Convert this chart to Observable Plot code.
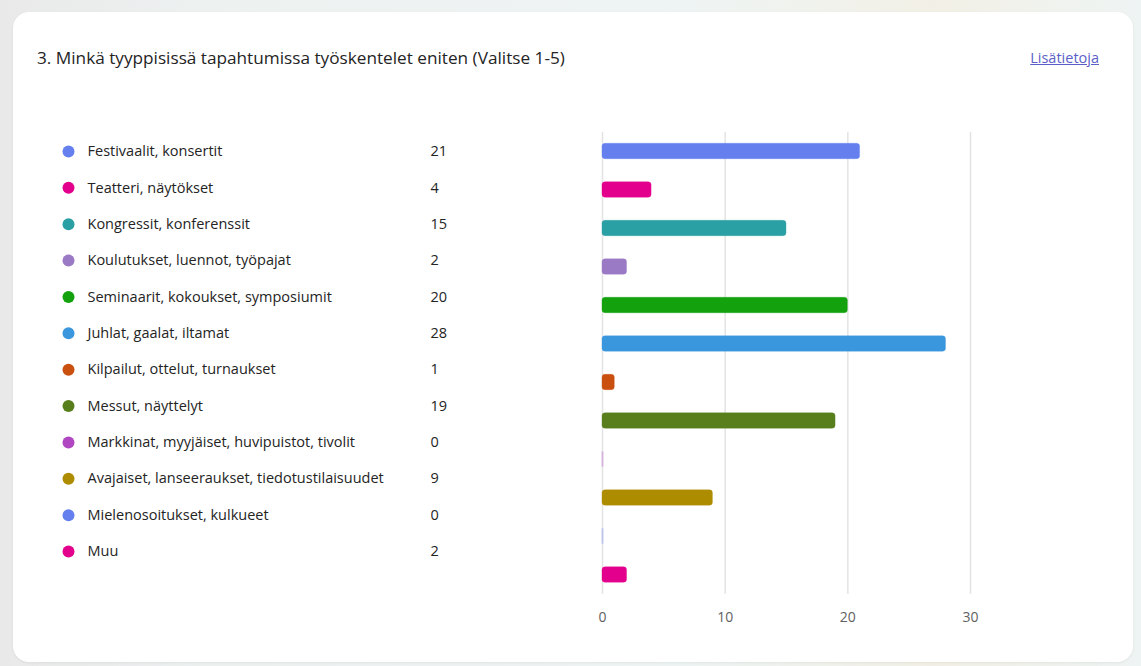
<!DOCTYPE html>
<html>
<head>
<meta charset="utf-8">
<script src="https://cdn.jsdelivr.net/npm/d3@7"></script>
<script src="https://cdn.jsdelivr.net/npm/@observablehq/plot@0.6"></script>
<style>
  html, body { margin: 0; padding: 0; }
  body {
    width: 1141px; height: 666px; position: relative; overflow: hidden;
    background: linear-gradient(90deg, #e9e9e9 0%, #edf2f1 20%, #eef4f3 60%, #f2f0e6 82%, #eef4f3 100%);
    font-family: "Segoe UI", "Open Sans", sans-serif;
  }
  #card {
    position: absolute; left: 13px; top: 12px; width: 1120px; height: 650px;
    background: #fff; border-radius: 16px;
    box-shadow: 0 1px 3px rgba(0,0,0,0.06);
  }
  #title {
    position: absolute; left: 37px; top: 47px; line-height: 22px;
    font-size: 17.2px; color: #242424; white-space: nowrap;
  }
  #more {
    position: absolute; right: 42px; top: 48px; line-height: 20px;
    font-size: 14.5px; color: #5b5fc7; text-decoration: underline; white-space: nowrap;
  }
  .layer { position: absolute; left: 0; top: 0; }
</style>
</head>
<body>
<div id="card"></div>
<div id="title">3. Minkä tyyppisissä tapahtumissa työskentelet eniten (Valitse 1-5)</div>
<div id="more">Lisätietoja</div>
<div id="legend" class="layer"></div>
<div id="bars" class="layer"></div>
<script>
const categories = [
  "Festivaalit, konsertit",
  "Teatteri, näytökset",
  "Kongressit, konferenssit",
  "Koulutukset, luennot, työpajat",
  "Seminaarit, kokoukset, symposiumit",
  "Juhlat, gaalat, iltamat",
  "Kilpailut, ottelut, turnaukset",
  "Messut, näyttelyt",
  "Markkinat, myyjäiset, huvipuistot, tivolit",
  "Avajaiset, lanseeraukset, tiedotustilaisuudet",
  "Mielenosoitukset, kulkueet",
  "Muu"
];
const values = [21, 4, 15, 2, 20, 28, 1, 19, 0, 9, 0, 2];
const colors = ["#6580ee", "#e3008c", "#2aa0a4", "#9b7ac5", "#13a10e", "#3a96dd",
                "#ca5010", "#587f1c", "#b146c2", "#ae8c00", "#6580ee", "#e3008c"];
const xTicks = [0, 10, 20, 30];

const data = categories.map((label, i) => ({label, value: values[i], color: colors[i]}));
const font = '"Segoe UI", "Open Sans", sans-serif';

const bars = Plot.plot({
  width: 1141, height: 666,
  marginLeft: 602, marginRight: 171, marginTop: 131.75, marginBottom: 72.25,
  style: {background: "transparent", fontFamily: font, fontSize: "14px", color: "#616161"},
  x: {domain: [0, 30], ticks: xTicks, tickSize: 0, tickPadding: 18, label: null},
  y: {domain: categories, paddingInner: 0.6, paddingOuter: 0.3, round: false, axis: null},
  color: {type: "identity"},
  marks: [
    Plot.ruleX(xTicks, {stroke: "#e3e3e3", strokeWidth: 1.5}),
    Plot.barX(data, {y: "label", x: "value", fill: "color", stroke: "color", strokeOpacity: 0.35, strokeWidth: 1, rx: 3}),
    Plot.tickX(data.filter(d => d.value === 0), {x: "value", y: "label", stroke: "color", strokeOpacity: 0.3, strokeWidth: 2})
  ]
});
document.getElementById("bars").appendChild(bars);

const legend = Plot.plot({
  width: 560, height: 666,
  marginLeft: 0, marginRight: 0, marginTop: 151, marginBottom: 115,
  style: {background: "transparent", fontFamily: font, fontSize: "14.5px", color: "#242424"},
  y: {type: "point", domain: categories, padding: 0, round: false, axis: null},
  color: {type: "identity"},
  marks: [
    Plot.dot(data, {y: "label", frameAnchor: "left", dx: 68, r: 6, fill: "color", stroke: null}),
    Plot.text(data, {y: "label", text: "label", frameAnchor: "left", dx: 87, textAnchor: "start", fill: "#242424", fontSize: 14.5}),
    Plot.text(data, {y: "label", text: d => String(d.value), frameAnchor: "left", dx: 430, textAnchor: "start", fill: "#242424", fontSize: 14.5})
  ]
});
document.getElementById("legend").appendChild(legend);
</script>
</body>
</html>
